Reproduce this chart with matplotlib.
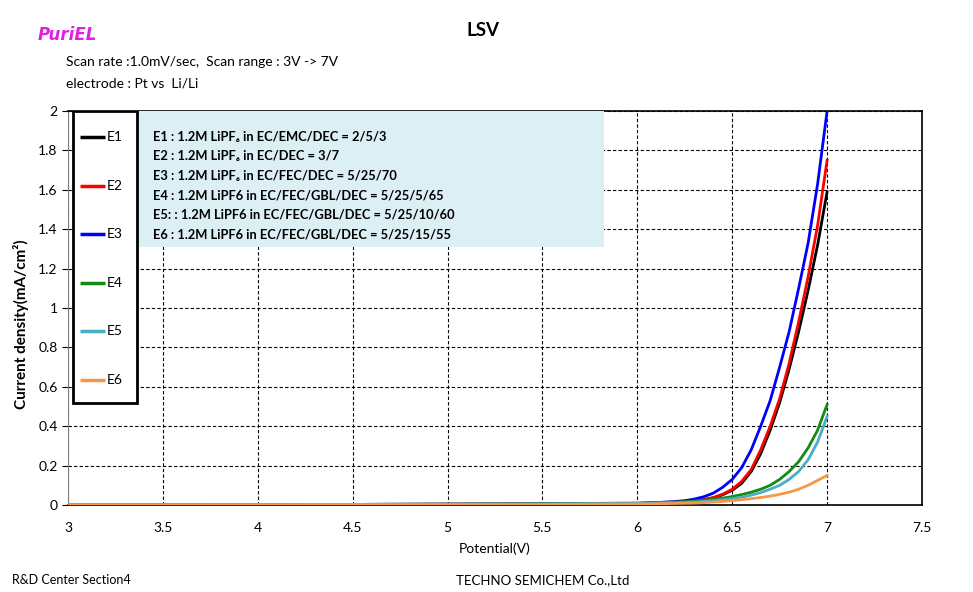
import numpy as np
import matplotlib
matplotlib.use("Agg")
import matplotlib.pyplot as plt
from matplotlib.patches import Rectangle

plt.rcParams['font.family'] = ['Lato', 'DejaVu Sans']

# potential grid (V)
volt = [3.0, 3.5, 4.0, 4.5, 5.0, 5.5, 6.0, 6.1, 6.2, 6.25, 6.3, 6.35, 6.4, 6.45,
        6.5, 6.55, 6.6, 6.65, 6.7, 6.75, 6.8, 6.85, 6.9, 6.95, 7.0]

# current density (mA/cm2)
e1 = [0.002, 0.002, 0.003, 0.003, 0.004, 0.005, 0.008, 0.010, 0.013, 0.016, 0.020, 0.027, 0.036, 0.052,
      0.075, 0.11, 0.17, 0.26, 0.38, 0.52, 0.69, 0.88, 1.09, 1.32, 1.59]
e2 = [0.002, 0.002, 0.003, 0.003, 0.004, 0.005, 0.008, 0.010, 0.012, 0.016, 0.020, 0.028, 0.038, 0.055,
      0.08, 0.12, 0.18, 0.28, 0.40, 0.54, 0.72, 0.93, 1.16, 1.42, 1.75]
e3 = [0.002, 0.002, 0.003, 0.003, 0.004, 0.005, 0.008, 0.012, 0.018, 0.022, 0.030, 0.042, 0.060, 0.090,
      0.13, 0.19, 0.28, 0.40, 0.53, 0.70, 0.88, 1.10, 1.33, 1.63, 2.0]
e4 = [0.002, 0.002, 0.003, 0.003, 0.004, 0.006, 0.010, 0.012, 0.015, 0.017, 0.020, 0.024, 0.029, 0.035,
      0.043, 0.053, 0.065, 0.08, 0.10, 0.13, 0.17, 0.22, 0.29, 0.38, 0.51]
e5 = [0.002, 0.002, 0.003, 0.003, 0.004, 0.005, 0.008, 0.010, 0.012, 0.013, 0.015, 0.018, 0.022, 0.027,
      0.032, 0.040, 0.05, 0.063, 0.08, 0.10, 0.13, 0.17, 0.23, 0.32, 0.45]
e6 = [0.001, 0.001, 0.001, 0.002, 0.002, 0.003, 0.005, 0.006, 0.008, 0.009, 0.010, 0.012, 0.015, 0.018,
      0.022, 0.027, 0.032, 0.038, 0.045, 0.054, 0.065, 0.08, 0.10, 0.125, 0.15]

names = ['E1', 'E2', 'E3', 'E4', 'E5', 'E6']
colors = ['#000000', '#ff0000', '#0000ff', '#138a13', '#4bacc6', '#f79646']

info_lines = [
    'E1 : 1.2M LiPF\u2086 in EC/EMC/DEC = 2/5/3',
    'E2 : 1.2M LiPF\u2086 in EC/DEC = 3/7',
    'E3 : 1.2M LiPF\u2086 in EC/FEC/DEC = 5/25/70',
    'E4 : 1.2M LiPF6 in EC/FEC/GBL/DEC = 5/25/5/65',
    'E5: : 1.2M LiPF6 in EC/FEC/GBL/DEC = 5/25/10/60',
    'E6 : 1.2M LiPF6 in EC/FEC/GBL/DEC = 5/25/15/55',
]

fig = plt.figure(figsize=(9.73, 5.92), dpi=100)
ax = fig.add_axes([68 / 973, 87 / 592, 854 / 973, 394 / 592])

for s, n, c in zip([e1, e2, e3, e4, e5, e6], names, colors):
    ax.plot(volt, s, color=c, lw=2, label=n, zorder=3)

ax.set_xlim(3, 7.5)
ax.set_ylim(0, 2)
ax.set_xticks(np.arange(3, 7.51, 0.5))
ax.set_yticks(np.arange(0, 2.01, 0.2))
ax.set_xticklabels(['3', '3.5', '4', '4.5', '5', '5.5', '6', '6.5', '7', '7.5'])
ax.set_yticklabels(['0', '0.2', '0.4', '0.6', '0.8', '1', '1.2', '1.4', '1.6', '1.8', '2'])
ax.grid(True, color='black', linestyle=(0, (3, 2)), linewidth=0.8)
ax.tick_params(axis='x', length=0, pad=12, labelsize=10)
ax.tick_params(axis='y', length=4, direction='out', labelsize=10)
for sp in ax.spines.values():
    sp.set_color('black')
    sp.set_linewidth(1.2)
ax.spines['left'].set_color('#808080')
ax.spines['left'].set_linewidth(0.8)

ax.set_xlabel('Potential(V)', fontsize=10, labelpad=6)
ax.set_ylabel('Current density(mA/cm\u00b2)', fontsize=11, fontweight='bold')
ax.yaxis.set_label_coords(-0.046, 0.46)

# composition box
ax.add_patch(Rectangle((0.082, 0.655), 0.546, 0.345, transform=ax.transAxes,
                       facecolor='#dbeff5', edgecolor='none', zorder=4))
for i, t in enumerate(info_lines):
    ax.text(0.0995, 0.935 - i * 0.0495, t, transform=ax.transAxes, fontsize=9.3,
            fontweight='bold', va='center', ha='left', zorder=5)

# legend box drawn by hand (narrow frame, wide row spacing)
ax.add_patch(Rectangle((0.0059, 0.259), 0.0749, 0.741, transform=ax.transAxes,
                       facecolor='white', edgecolor='black', linewidth=2, zorder=6))
for i, (n, c) in enumerate(zip(names, colors)):
    yy = 0.934 - i * 0.1234
    ax.plot([0.0141, 0.0433], [yy, yy], transform=ax.transAxes, color=c, lw=2.5,
            solid_capstyle='butt', zorder=7)
    ax.text(0.0457, yy, n, transform=ax.transAxes, fontsize=10, va='center', ha='left', zorder=7)

fig.text(38 / 973, 1 - 35 / 592, 'PuriEL', color='#e020e0', fontsize=12, fontstyle='italic',
         fontweight='bold', family='DejaVu Sans', va='center', ha='left')
fig.text(483 / 973, 1 - 31 / 592, 'LSV', fontsize=13.5, fontweight='bold', va='center', ha='center')
fig.text(66 / 973, 1 - 62 / 592, 'Scan rate :1.0mV/sec,  Scan range : 3V -> 7V', fontsize=10,
         va='center', ha='left')
fig.text(66 / 973, 1 - 84 / 592, 'electrode : Pt vs  Li/Li', fontsize=10, va='center', ha='left')
fig.text(12 / 973, 1 - 580 / 592, 'R&D Center Section4', fontsize=9, va='center', ha='left')
fig.text(456 / 973, 1 - 580 / 592, 'TECHNO SEMICHEM Co.,Ltd', fontsize=9.5, va='center', ha='left')

fig.savefig('out.png', dpi=100)
